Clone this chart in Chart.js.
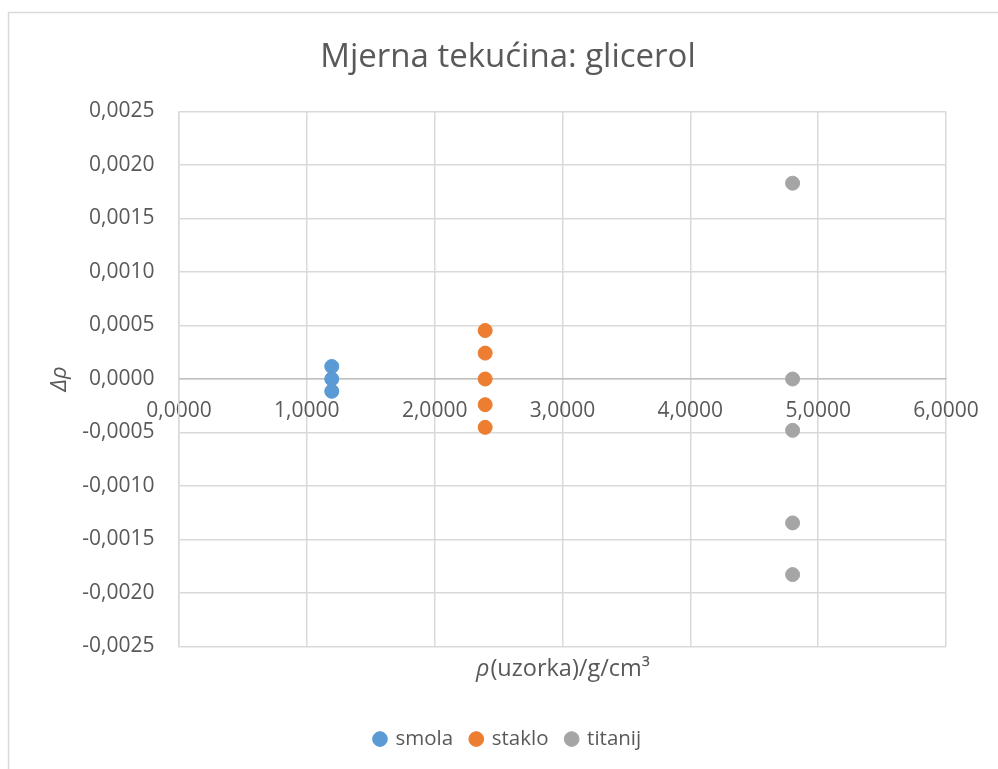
<!DOCTYPE html>
<html>
<head>
<meta charset="utf-8">
<script src="https://cdn.jsdelivr.net/npm/chart.js@4"></script>
<style>
html,body{margin:0;padding:0;background:#fff;overflow:hidden;}
canvas{display:block;}
</style>
</head>
<body>
<canvas id="c" width="998" height="769"></canvas>
<script>
// ---- data ----
const CHART_TITLE = 'Mjerna tekućina: glicerol';
const SERIES_NAMES = ['smola', 'staklo', 'titanij'];
const SERIES_COLORS = ['#5B9BD5', '#ED7D31', '#A5A5A5'];
const SMOLA_X = [1.195, 1.195, 1.195];
const SMOLA_Y = [0.000117, 0.0, -0.000115];
const STAKLO_X = [2.395, 2.395, 2.395, 2.395, 2.395];
const STAKLO_Y = [0.000453, 0.000242, 0.0, -0.000240, -0.000452];
const TITANIJ_X = [4.80, 4.80, 4.80, 4.80, 4.80];
const TITANIJ_Y = [0.00183, 0.0, -0.00048, -0.001345, -0.001828];
const X_TICKS = [0, 1, 2, 3, 4, 5, 6];
const Y_TICKS = [-0.0025, -0.0020, -0.0015, -0.0010, -0.0005, 0, 0.0005, 0.0010, 0.0015, 0.0020, 0.0025];
const X_TITLE_ITALIC = 'ρ';
const X_TITLE_REST = '(uzorka)/g/cm³';
const Y_TITLE = 'Δρ';

const FONT = '"Open Sans"';
const TEXT_COLOR = '#595959';
const GRID_COLOR = '#D9D9D9';

function fmt(v) {
  if (Math.abs(v) < 1e-12) v = 0;
  return v.toFixed(4).replace('.', ',');
}
function pts(xs, ys) { return xs.map((x, i) => ({x: x, y: ys[i]})); }

const decor = {
  id: 'decor',
  beforeDraw(chart) {
    const ctx = chart.ctx;
    ctx.save();
    ctx.fillStyle = '#fff';
    ctx.fillRect(0, 0, chart.width, chart.height);
    ctx.strokeStyle = GRID_COLOR;
    ctx.lineWidth = 1.5;
    ctx.strokeRect(8.5, 12.5, 1200, 1000);
    ctx.restore();
  },
  afterDraw(chart) {
    const ctx = chart.ctx, a = chart.chartArea;
    const fs = 23.5;
    const fI = 'italic ' + fs + 'px ' + FONT;
    const fN = fs + 'px ' + FONT;
    ctx.save();
    ctx.font = fI; const w1 = ctx.measureText(X_TITLE_ITALIC).width;
    ctx.font = fN; const w2 = ctx.measureText(X_TITLE_REST).width;
    const cx = (a.left + a.right) / 2;
    const x0 = cx - (w1 + w2) / 2;
    const y = a.bottom + 23;
    ctx.textBaseline = 'middle';
    ctx.textAlign = 'left';
    ctx.fillStyle = TEXT_COLOR;
    ctx.font = fI; ctx.fillText(X_TITLE_ITALIC, x0, y);
    ctx.font = fN; ctx.fillText(X_TITLE_REST, x0 + w1 + 1, y);
    ctx.restore();
  }
};

const xs = [SMOLA_X, STAKLO_X, TITANIJ_X];
const ys = [SMOLA_Y, STAKLO_Y, TITANIJ_Y];

new Chart(document.getElementById('c'), {
  type: 'scatter',
  data: {
    datasets: SERIES_NAMES.map((name, i) => ({
      label: name,
      data: pts(xs[i], ys[i]),
      backgroundColor: SERIES_COLORS[i],
      borderColor: SERIES_COLORS[i],
      pointRadius: 7,
      pointHoverRadius: 7,
      borderWidth: 1
    }))
  },
  options: {
    responsive: false,
    animation: false,
    devicePixelRatio: 1,
    layout: {padding: {left: 70, right: 52, top: 0, bottom: 9.7}},
    scales: {
      x: {
        type: 'linear',
        position: {y: 0},
        min: 0, max: 6,
        afterBuildTicks: s => { s.ticks = X_TICKS.map(v => ({value: v})); },
        ticks: {callback: v => fmt(v), color: TEXT_COLOR, font: {family: FONT, size: 21}, padding: 19, maxRotation: 0, autoSkip: false},
        grid: {color: GRID_COLOR, lineWidth: 1.5, drawTicks: false},
        border: {color: '#BFBFBF', width: 1.5}
      },
      y: {
        type: 'linear',
        position: 'left',
        min: -0.0025, max: 0.0025,
        afterBuildTicks: s => { s.ticks = Y_TICKS.map(v => ({value: v})); },
        afterFit: s => { s.width = 109; },
        ticks: {callback: v => fmt(v), color: TEXT_COLOR, font: {family: FONT, size: 21}, padding: 24.5, autoSkip: false},
        grid: {color: GRID_COLOR, lineWidth: 1.5, drawTicks: false},
        border: {color: GRID_COLOR, width: 1.5},
        title: {display: true, text: Y_TITLE, color: TEXT_COLOR, font: {family: FONT, size: 22, style: 'italic'}, padding: {top: -23.2, bottom: 0}}
      }
    },
    plugins: {
      title: {display: true, text: CHART_TITLE, color: TEXT_COLOR, font: {family: FONT, size: 33, weight: 'normal'}, padding: {top: 38.2, bottom: 33.7}},
      legend: {
        display: true, position: 'bottom',
        labels: {usePointStyle: true, pointStyle: 'circle', boxWidth: 10.4, boxHeight: 10.4, padding: 18, color: TEXT_COLOR, font: {family: FONT, size: 20.5}},
        title: {display: true, text: '', padding: {top: 12.75, bottom: 26.95}, font: {family: FONT, size: 20.5}}
      },
      tooltip: {enabled: false}
    }
  },
  plugins: [decor]
});
</script>
</body>
</html>
